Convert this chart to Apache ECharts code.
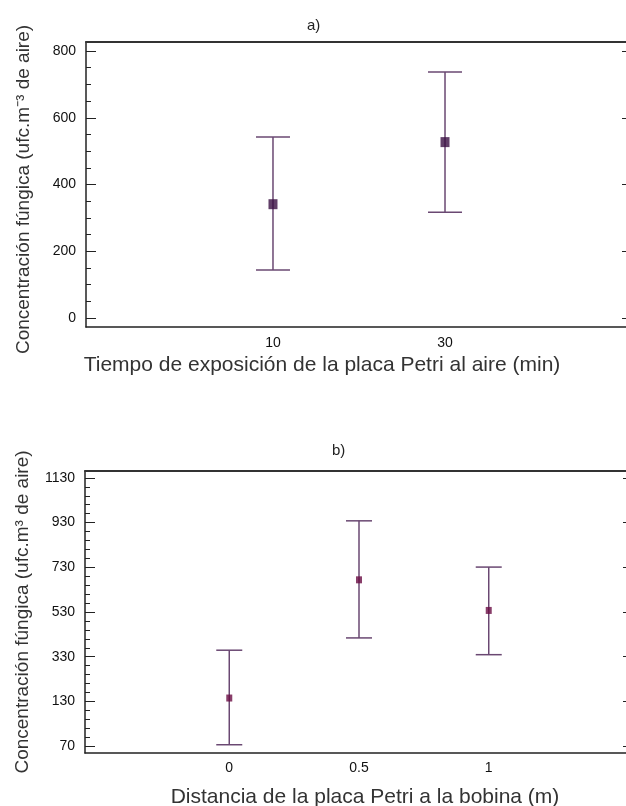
<!DOCTYPE html>
<html>
<head>
<meta charset="utf-8">
<script src="https://cdn.jsdelivr.net/npm/echarts@6/dist/echarts.min.js"></script>
<style>
  html, body { margin: 0; padding: 0; background: #fff; }
  #chart { width: 626px; height: 806px; }
</style>
</head>
<body>
<div id="chart"></div>
<script>
// a) tiempo de exposición
const topX = [10, 30];
const topMean = [341, 527];
const topLow = [144, 317];
const topHigh = [542, 737];
const topYTicks = [0, 200, 400, 600, 800];

// b) distancia a la bobina
const botX = [0, 0.5, 1];
const botMean = [145, 674, 537];
const botLow = [-64, 414, 339];
const botHigh = [359, 938, 731];
const botYTicks = [-70, 130, 330, 530, 730, 930, 1130];
const botYTickLabels = ["70", "130", "330", "530", "730", "930", "1130"];

const FONT = "Liberation Sans, Arial, sans-serif";
const barColor = "#6a4872";

// minor ticks between the majors
const minors = (ticks, n) => {
    const out = [];
    for (let i = 0; i < ticks.length - 1; i++) {
        const step = (ticks[i + 1] - ticks[i]) / n;
        for (let k = 1; k < n; k++) {
            out.push(ticks[i] + step * k);
        }
    }
    return out;
};

const errorSeries = (xIdx, yIdx, xs, lows, highs, cap) => ({
    type: "custom",
    xAxisIndex: xIdx,
    yAxisIndex: yIdx,
    data: xs.map((x, i) => [x, lows[i], highs[i]]),
    renderItem: (params, api) => {
        const lo = api.coord([api.value(0), api.value(1)]);
        const hi = api.coord([api.value(0), api.value(2)]);
        const style = { stroke: barColor, lineWidth: 1.5 };
        return {
            type: "group",
            children: [
                { type: "line", shape: { x1: lo[0], y1: lo[1], x2: hi[0], y2: hi[1] }, style },
                { type: "line", shape: { x1: lo[0] - cap / 2, y1: lo[1], x2: lo[0] + cap / 2, y2: lo[1] }, style },
                { type: "line", shape: { x1: hi[0] - cap / 2, y1: hi[1], x2: hi[0] + cap / 2, y2: hi[1] }, style },
            ],
        };
    },
    z: 2,
});

const labelStyle = { color: "#111", fontFamily: FONT, fontSize: 14 };
const nameStyleY = { color: "#333", fontFamily: FONT, fontSize: 19 };
const nameStyleX = { color: "#333", fontFamily: FONT, fontSize: 21 };
const hiddenAxis = { splitLine: { show: false }, axisTick: { show: false }, axisLabel: { show: false } };

const option = {
    animation: false,
    title: [
        { text: "a)", left: 302, top: 13, textStyle: { fontFamily: FONT, fontSize: 15, fontWeight: "normal", color: "#222" } },
        { text: "b)", left: 327, top: 438, textStyle: { fontFamily: FONT, fontSize: 15, fontWeight: "normal", color: "#222" } },
    ],
    grid: [
        { left: 86, top: 42, width: 546, height: 285, outerBoundsMode: "none" },
        { left: 85, top: 471, width: 548, height: 282, outerBoundsMode: "none" },
    ],
    xAxis: [
        {
            gridIndex: 0, type: "value", min: -11.74, max: 51.74,
            splitLine: { show: false },
            axisLine: { onZero: false, lineStyle: { color: "#222", width: 1.5 } },
            axisTick: { show: false },
            axisLabel: { customValues: topX, margin: 9, ...labelStyle },
            name: "Tiempo de exposición de la placa Petri al aire (min)",
            nameLocation: "middle", nameGap: 28,
            nameTextStyle: { ...nameStyleX, padding: [0, 74, 0, 0] },
        },
        {
            gridIndex: 0, type: "value", min: -11.74, max: 51.74, position: "top", ...hiddenAxis,
            axisLine: { onZero: false, lineStyle: { color: "#333", width: 2 } },
        },
        {
            gridIndex: 1, type: "value", min: -0.556, max: 1.556,
            splitLine: { show: false },
            axisLine: { onZero: false, lineStyle: { color: "#222", width: 1.5 } },
            axisTick: { show: false },
            axisLabel: { customValues: botX, margin: 8, ...labelStyle },
            name: "Distancia de la placa Petri a la bobina (m)",
            nameLocation: "middle", nameGap: 34,
            nameTextStyle: { ...nameStyleX, padding: [0, 0, 0, 12] },
        },
        {
            gridIndex: 1, type: "value", min: -0.556, max: 1.556, position: "top", ...hiddenAxis,
            axisLine: { onZero: false, lineStyle: { color: "#333", width: 2 } },
        },
    ],
    yAxis: [
        // 0: top left, majors
        {
            gridIndex: 0, type: "value", min: -27, max: 827, position: "left",
            splitLine: { show: false },
            axisLine: { show: true, onZero: false, lineStyle: { color: "#222", width: 1.5 } },
            axisTick: { show: true, inside: true, length: 10, customValues: topYTicks, lineStyle: { color: "#222" } },
            axisLabel: { customValues: topYTicks, margin: 10, ...labelStyle },
            name: "Concentración fúngica (ufc.m⁻³ de aire)",
            nameLocation: "middle", nameGap: 53,
            nameTextStyle: { ...nameStyleY, padding: [0, 10, 0, 0] },
        },
        // 1: top left, minors
        {
            gridIndex: 0, type: "value", min: -27, max: 827, position: "left",
            splitLine: { show: false }, axisLine: { show: false, onZero: false }, axisLabel: { show: false },
            axisTick: { show: true, inside: true, length: 5, customValues: minors(topYTicks, 4), lineStyle: { color: "#222" } },
        },
        // 2: top right
        {
            gridIndex: 0, type: "value", min: -27, max: 827, position: "right",
            splitLine: { show: false }, axisLabel: { show: false },
            axisLine: { show: true, onZero: false, lineStyle: { color: "#222" } },
            axisTick: { show: true, inside: true, length: 10, customValues: topYTicks, lineStyle: { color: "#222" } },
        },
        // 3: bottom left, majors
        {
            gridIndex: 1, type: "value", min: -101, max: 1161, position: "left",
            splitLine: { show: false },
            axisLine: { show: true, onZero: false, lineStyle: { color: "#222", width: 1.5 } },
            axisTick: { show: true, inside: true, length: 10, customValues: botYTicks, lineStyle: { color: "#222" } },
            axisLabel: {
                customValues: botYTicks, margin: 10, ...labelStyle,
                formatter: (v) => botYTickLabels[botYTicks.indexOf(v)],
            },
            name: "Concentración fúngica (ufc.m³ de aire)",
            nameLocation: "middle", nameGap: 53, nameTextStyle: nameStyleY,
        },
        // 4: bottom left, minors
        {
            gridIndex: 1, type: "value", min: -101, max: 1161, position: "left",
            splitLine: { show: false }, axisLine: { show: false, onZero: false }, axisLabel: { show: false },
            axisTick: { show: true, inside: true, length: 5, customValues: minors(botYTicks, 5), lineStyle: { color: "#222" } },
        },
        // 5: bottom right
        {
            gridIndex: 1, type: "value", min: -101, max: 1161, position: "right",
            splitLine: { show: false }, axisLabel: { show: false },
            axisLine: { show: true, onZero: false, lineStyle: { color: "#222" } },
            axisTick: { show: true, inside: true, length: 10, customValues: botYTicks, lineStyle: { color: "#222" } },
        },
    ],
    series: [
        errorSeries(0, 0, topX, topLow, topHigh, 34),
        {
            type: "scatter", xAxisIndex: 0, yAxisIndex: 0,
            data: topX.map((x, i) => [x, topMean[i]]),
            symbol: "rect", symbolSize: [9, 10],
            itemStyle: { color: "#3a0f42" }, z: 3,
        },
        errorSeries(2, 3, botX, botLow, botHigh, 26),
        {
            type: "scatter", xAxisIndex: 2, yAxisIndex: 3,
            data: botX.map((x, i) => [x, botMean[i]]),
            symbol: "rect", symbolSize: [6, 7],
            itemStyle: { color: "#6a0c44" }, z: 3,
        },
    ],
};

echarts.init(document.getElementById("chart")).setOption(option);
</script>
</body>
</html>
